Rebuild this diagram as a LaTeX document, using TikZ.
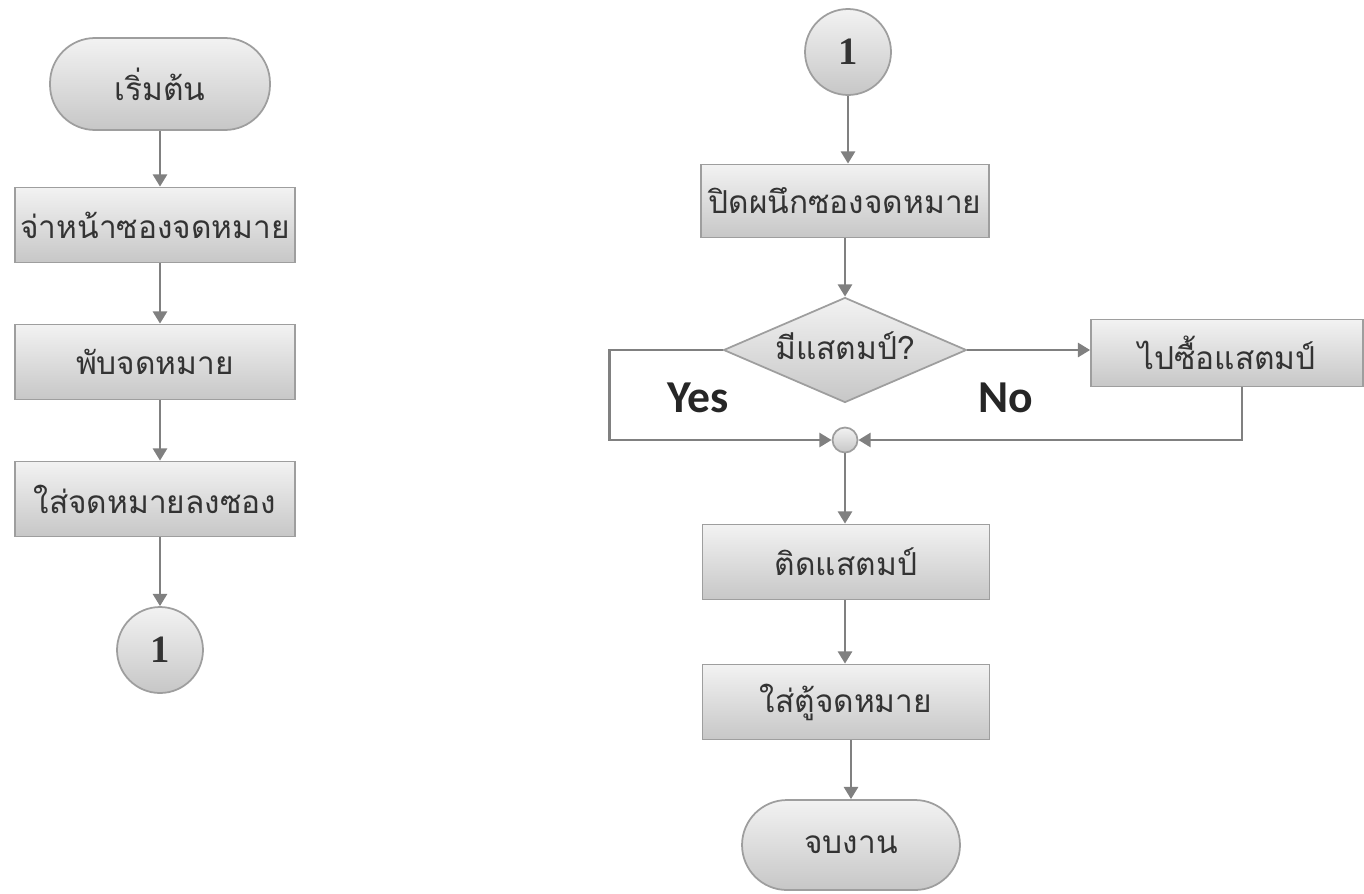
\documentclass[tikz,border=0pt]{standalone}
\usepackage{fontspec}
\newfontfamily\thaifont[Script=Thai]{Loma}
\newfontfamily\latinfont{Carlito}
\newfontfamily\digitfont{Liberation Serif}
\usetikzlibrary{shapes.geometric,arrows.meta,calc}

\begin{document}
\begin{tikzpicture}[x=0.02cm,y=-0.02cm,
  every node/.style={font=\thaifont\fontsize{18}{22}\selectfont, text=black!80},
  fillshade/.style={draw=black!38, line width=1pt, top color=black!5, bottom color=black!22},
  procbox/.style={fillshade, minimum width=5.6cm, minimum height=1.5cm, inner sep=0pt},
  termbox/.style={fillshade, rounded corners=0.9cm, minimum width=4.4cm, minimum height=1.84cm, inner sep=0pt},
  connbox/.style={fillshade, circle, minimum size=1.72cm, inner sep=0pt, font=\digitfont\bfseries\fontsize{22}{24}\selectfont},
  flow/.style={draw=black!50, line width=1.6pt, -{Triangle[length=7pt,width=8pt]}},
  answer/.style={font=\latinfont\bfseries\fontsize{26}{28}\selectfont, text=black!85}
]
\useasboundingbox (0,0) rectangle (1364,893);

% left column
\node[termbox] (start) at (160,84) {เริ่มต้น};
\node[procbox] (a1) at (155,225) {จ่าหน้าซองจดหมาย};
\node[procbox] (a2) at (155,362) {พับจดหมาย};
\node[procbox] (a3) at (155,499) {ใส่จดหมายลงซอง};
\node[connbox] (c1) at (160,650) {1};

\draw[flow] (start.south) -- (start.south |- a1.north);
\draw[flow] (a1.south -| start.south) -- (a2.north -| start.south);
\draw[flow] (a2.south -| start.south) -- (a3.north -| start.south);
\draw[flow] (a3.south -| start.south) -- (c1.north);

% right column
\node[connbox] (c2) at (848,52) {1};
\node[procbox, minimum width=5.76cm, minimum height=1.46cm] (b1) at (845,201) {ปิดผนึกซองจดหมาย};
\node[diamond, fillshade, minimum width=4.86cm, minimum height=2.1cm, inner sep=0pt] (dia) at (845,350) {};
\node (diatext) at (845,346) {มีแสตมป์?};
\node[procbox, minimum width=5.44cm, minimum height=1.34cm] (buy) at (1227,353) {ไปซื้อแสตมป์};
\node[fillshade, circle, minimum size=0.5cm, inner sep=0pt] (junc) at (845,440) {};
\node[procbox, minimum width=5.74cm] (b2) at (846,562) {ติดแสตมป์};
\node[procbox, minimum width=5.74cm] (b3) at (846,702) {ใส่ตู้จดหมาย};
\node[termbox, minimum width=4.36cm, minimum height=1.8cm] (finish) at (851,845) {จบงาน};

\node[answer] (yes) at (698,398) {Yes};
\node[answer] (no) at (1006,398) {No};

\draw[flow] (c2.south) -- (b1.north -| c2.south);
\draw[flow] (b1.south -| dia.north) -- (dia.north);
\draw[flow] (dia.east) -- (dia.east -| buy.west);
\draw[flow] (dia.west) -- ++(-113,0) |- (junc.west);
\draw[flow] ([xshift=0.3cm]buy.south) |- (junc.east);
\draw[flow] (junc.south) -- (b2.north -| junc.south);
\draw[flow] (b2.south -| junc.south) -- (b3.north -| junc.south);
\draw[flow] (b3.south -| finish.north) -- (finish.north);
\end{tikzpicture}
\end{document}
